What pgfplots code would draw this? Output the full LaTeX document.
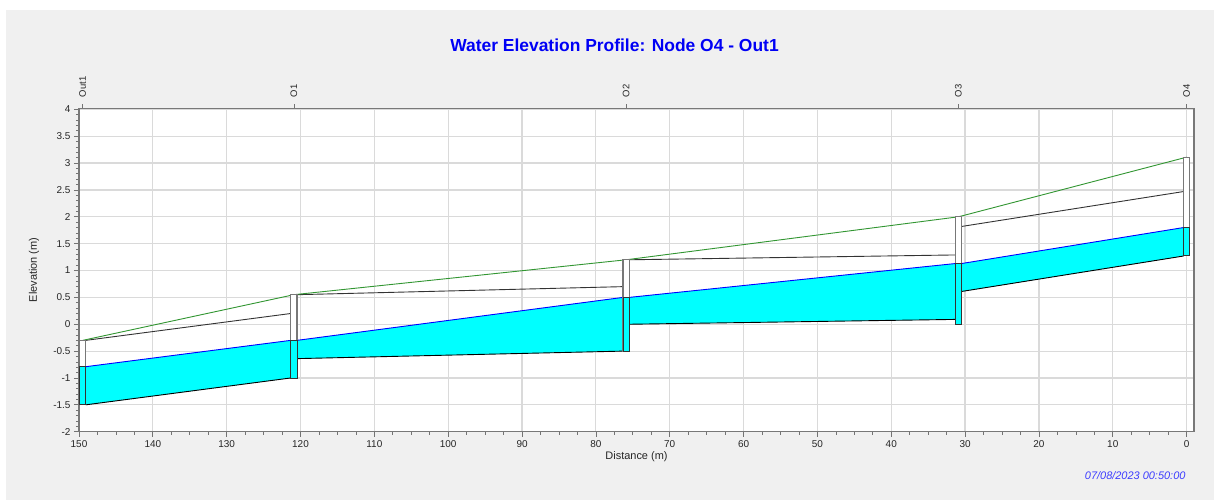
\documentclass[border=0pt]{standalone}
\usepackage{pgfplots}
\pgfplotsset{compat=1.18}
\usepackage{fontspec}
\setmainfont{Liberation Sans}
\definecolor{panel}{RGB}{240,240,240}
\definecolor{gridc}{RGB}{218,218,218}
\definecolor{ground}{RGB}{50,150,50}
\definecolor{water}{RGB}{0,255,255}
\definecolor{wline}{RGB}{0,0,255}
\definecolor{titlec}{RGB}{0,0,245}
\definecolor{stamp}{RGB}{60,60,255}
\definecolor{frame}{RGB}{120,120,120}
\begin{document}
\begin{tikzpicture}[x=1bp,y=1bp]
\path[fill=white] (0,0) rectangle (1214,500);
\path[fill=panel] (6,0) rectangle (1214,490);
\node[font=\bfseries\fontsize{17.5}{20}\selectfont, text=titlec] at (614.5,455) {Water Elevation Profile: Node O4 - Out1};
\node[font=\itshape\fontsize{11}{13}\selectfont, text=stamp, anchor=east] at (1189,24) {07/08/2023 00:50:00};
\begin{axis}[
  at={(79bp,68.3bp)}, anchor=south west,
  width=1115bp, height=323.4bp, scale only axis,
  x dir=reverse, xmin=-1, xmax=150, ymin=-2, ymax=4.02,
  xtick={0,10,...,150}, minor x tick num=3,
  ytick={-2,-1.5,...,4}, minor y tick num=4,
  xtick pos=bottom, ytick pos=left,
  tick align=outside, major tick length=5bp, minor tick length=3bp,
  tick style={black!55, line width=0.7bp},
  grid=major, major grid style={gridc, line width=1.2bp},
  axis line style={frame, line width=1.5bp},
  axis background/.style={fill=white},
  /pgf/number format/assume math mode=true,
  ticklabel style={font=\fontsize{10}{12}\selectfont, text=black!85},
  yticklabel style={/pgf/number format/.cd, fixed, precision=1},
  xlabel={Distance (m)}, ylabel={Elevation (m)},
  label style={font=\fontsize{11}{13}\selectfont, text=black!85},
  xlabel style={at={(axis description cs:0.5,0)}, anchor=center, yshift=-25.3bp},
  ylabel style={at={(axis description cs:0,0.5)}, anchor=center, yshift=45bp},
]
% conduit water fills
\addplot[draw=none, fill=water] coordinates {(149.08,-1.5) (121.32,-1.0) (121.32,-0.3) (149.08,-0.79)} -- cycle;
\addplot[draw=none, fill=water] coordinates {(120.48,-0.64) (76.32,-0.5) (76.32,0.5) (120.48,-0.3)} -- cycle;
\addplot[draw=none, fill=water] coordinates {(75.48,0.0) (31.32,0.09) (31.32,1.13) (75.48,0.5)} -- cycle;
\addplot[draw=none, fill=water] coordinates {(30.48,0.61) (0.42,1.27) (0.42,1.80) (30.48,1.13)} -- cycle;
% inverts
\addplot[black, line width=0.9bp] coordinates {(149.08,-1.5) (121.32,-1.0)};
\addplot[black, line width=0.9bp] coordinates {(120.48,-0.64) (76.32,-0.5)};
\addplot[black, line width=0.9bp] coordinates {(75.48,0.0) (31.32,0.09)};
\addplot[black, line width=0.9bp] coordinates {(30.48,0.61) (0.42,1.27)};
% crowns
\addplot[black!80, line width=0.9bp] coordinates {(149.08,-0.3) (121.32,0.2)};
\addplot[black!80, line width=0.9bp] coordinates {(120.48,0.55) (76.32,0.70)};
\addplot[black!80, line width=0.9bp] coordinates {(75.48,1.2) (31.32,1.29)};
\addplot[black!80, line width=0.9bp] coordinates {(30.48,1.82) (0.42,2.47)};
% water surface
\addplot[wline, line width=0.9bp] coordinates {(149.08,-0.79) (121.32,-0.3)};
\addplot[wline, line width=0.9bp] coordinates {(120.48,-0.3) (76.32,0.5)};
\addplot[wline, line width=0.9bp] coordinates {(75.48,0.5) (31.32,1.13)};
\addplot[wline, line width=0.9bp] coordinates {(30.48,1.13) (0.42,1.80)};
% ground
\addplot[ground, line width=0.9bp] coordinates {(149.5,-0.3) (120.9,0.55) (75.9,1.2) (30.9,2.0) (0,3.11)};
% node boxes
\addplot[draw=frame, line width=1.3bp, fill=white] coordinates {(149.92,-1.5) (149.08,-1.5) (149.08,-0.3) (149.92,-0.3)} -- cycle;
\addplot[draw=black!80, line width=0.8bp, fill=water] coordinates {(149.92,-1.5) (149.08,-1.5) (149.08,-0.79) (149.92,-0.79)} -- cycle;
\addplot[draw=frame, line width=1.3bp, fill=white] coordinates {(121.32,-1.0) (120.48,-1.0) (120.48,0.55) (121.32,0.55)} -- cycle;
\addplot[draw=black!80, line width=0.8bp, fill=water] coordinates {(121.32,-1.0) (120.48,-1.0) (120.48,-0.3) (121.32,-0.3)} -- cycle;
\addplot[draw=frame, line width=1.3bp, fill=white] coordinates {(76.32,-0.5) (75.48,-0.5) (75.48,1.2) (76.32,1.2)} -- cycle;
\addplot[draw=black!80, line width=0.8bp, fill=water] coordinates {(76.32,-0.5) (75.48,-0.5) (75.48,0.5) (76.32,0.5)} -- cycle;
\addplot[draw=frame, line width=1.3bp, fill=white] coordinates {(31.32,0.0) (30.48,0.0) (30.48,2.0) (31.32,2.0)} -- cycle;
\addplot[draw=black!80, line width=0.8bp, fill=water] coordinates {(31.32,0.0) (30.48,0.0) (30.48,1.13) (31.32,1.13)} -- cycle;
\addplot[draw=frame, line width=1.3bp, fill=white] coordinates {(0.42,1.28) (-0.42,1.28) (-0.42,3.11) (0.42,3.11)} -- cycle;
\addplot[draw=black!80, line width=0.8bp, fill=water] coordinates {(0.42,1.28) (-0.42,1.28) (-0.42,1.80) (0.42,1.80)} -- cycle;
\end{axis}
\begin{axis}[
  at={(79bp,68.3bp)}, anchor=south west,
  width=1115bp, height=323.4bp, scale only axis,
  x dir=reverse, xmin=-1, xmax=150, ymin=-2, ymax=4.02,
  axis x line*=top, hide y axis,
  axis line style={draw=none},
  xtick={149.5,120.9,75.9,30.9,0},
  xticklabels={Out1,O1,O2,O3,O4},
  tick align=outside, major tick length=4bp,
  tick style={black!55, line width=0.7bp},
  xticklabel style={rotate=90, anchor=west, xshift=6bp, font=\fontsize{9.5}{11}\selectfont, text=black!85, inner sep=1bp},
]
\end{axis}
\end{tikzpicture}
\end{document}
